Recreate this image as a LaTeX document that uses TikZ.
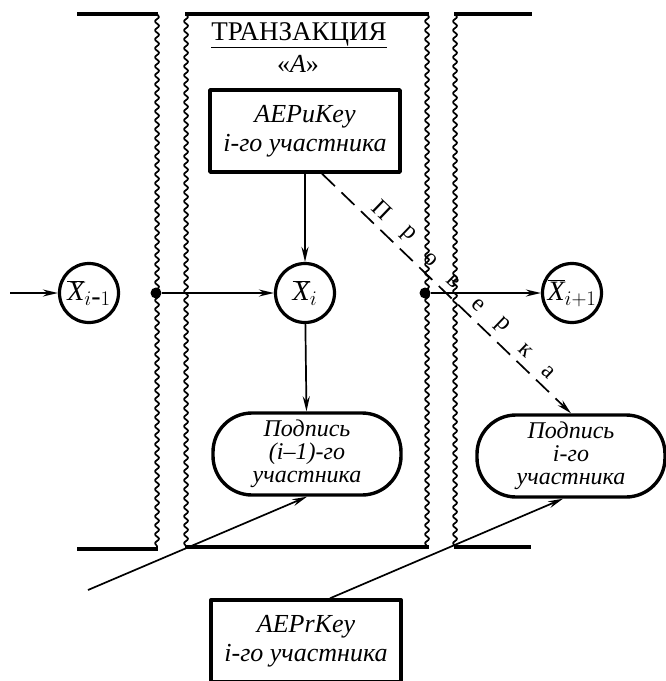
\documentclass[tikz,border=0pt]{standalone}
\usepackage{fontspec}
\setmainfont{Liberation Serif}
\usetikzlibrary{arrows.meta,decorations.pathmorphing,calc}
\begin{document}
\begin{tikzpicture}[x=1pt,y=-1pt,line join=round,
 box/.style={draw,line width=3.4pt,minimum width=190pt,minimum height=82pt,inner sep=0pt,align=center,font=\itshape\fontsize{26}{29}\selectfont},
 pill/.style={draw,line width=3.4pt,rounded corners=39pt,minimum width=188pt,minimum height=82pt,inner sep=0pt,align=center,font=\itshape\fontsize{24}{23}\selectfont},
 var/.style={draw,circle,line width=3.2pt,minimum size=59pt,inner sep=0pt,font=\fontsize{28}{28}\selectfont},
 arr/.style={line width=1.7pt,-{Stealth[length=15pt,width=7pt]}},
 bound/.style={line width=4.5pt},
 wavy/.style={line width=1.7pt,decorate,decoration={snake,segment length=9pt,amplitude=2pt}},
 dotnode/.style={circle,fill,inner sep=0pt,minimum size=11pt},
 letter/.style={font=\fontsize{24}{24}\selectfont,inner sep=7pt}]
\useasboundingbox (0,0) rectangle (666,681);
% block boundaries
\draw[bound] (77,14) -- (158,14);
\draw[bound] (77,549) -- (158,549);
\draw[wavy] (157,14) -- (157,549);
\draw[bound] (185,14) -- (429,14);
\draw[bound] (185,547) -- (429,547);
\draw[wavy] (186,14) -- (186,547);
\draw[wavy] (427,14) -- (427,547);
\draw[bound] (454,14) -- (532,14);
\draw[bound] (454,547) -- (531,547);
\draw[wavy] (455,14) -- (455,547);
% title
\node[font=\fontsize{27}{27}\selectfont,inner sep=0pt] (title) at (299,35) {\underline{ТРАНЗАКЦИЯ}};
\node[font=\fontsize{26}{26}\selectfont,inner sep=0pt] (tA) at (298,64) {«\textit{A}»};
% nodes
\node[box] (pu) at (305,131) {AEPuKey\\i-го участника};
\node[box] (pr) at (306,641) {AEPrKey\\i-го участника};
\node[var] (x0) at (89,293) {$\overline{\hbox{\itshape X}}_{i\hbox{-}1}$};
\node[var] (x1) at (305,293) {$\overline{\hbox{\itshape X}}_{i}$};
\node[var] (x2) at (572,293) {$\overline{\hbox{\itshape X}}_{i+1}$};
\node[pill] (s1) at (307,454) {Подпись\\(i--1)-го\\участника};
\node[pill] (s2) at (571,456) {Подпись\\i-го\\участника};
\node[dotnode] (d1) at (156,293) {};
\node[dotnode] (d2) at (425,293) {};
\coordinate (in0) at (10,293);
\coordinate (in1) at (88,590);
\coordinate (ds) at ($(pu.south)+(17,0)$);
\coordinate (pr2) at ($(pr.north)+(24,0)$);
% connectors
\draw[arr] (in0) -- (x0);
\draw[arr] (d1) -- (x1);
\draw[arr] (pu) -- (x1);
\draw[arr] (x1) -- (s1);
\draw[arr] (d2) -- (x2);
\draw[arr] (in1) -- (s1.south);
\draw[arr] (pr2) -- ($(s2.south)+(-8,0)$);
\draw[arr,dash pattern=on 18pt off 9pt] (ds) -- (s2.north)
  node[pos=0.20,above,sloped,letter] {П}
  node[pos=0.30,above,sloped,letter] {р}
  node[pos=0.40,above,sloped,letter] {о}
  node[pos=0.49,above,sloped,letter] {в}
  node[pos=0.59,above,sloped,letter] {е}
  node[pos=0.68,above,sloped,letter] {р}
  node[pos=0.78,above,sloped,letter] {к}
  node[pos=0.87,above,sloped,letter] {а};
\end{tikzpicture}
\end{document}
